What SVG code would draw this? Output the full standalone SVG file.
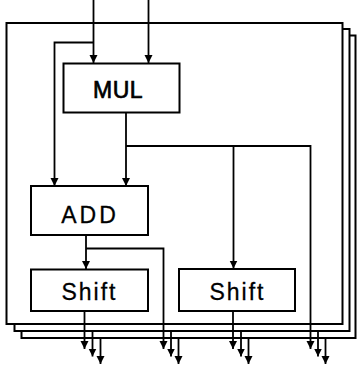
<svg xmlns="http://www.w3.org/2000/svg" width="357" height="367" viewBox="0 0 357 367">
<style>
.frame{fill:none;stroke:#000;stroke-width:2}
.box{fill:#fff;stroke:#000;stroke-width:2}
.wire{fill:none;stroke:#000;stroke-width:1.8}
.lbl{font-family:"Liberation Sans",Arial,sans-serif;font-size:23px;fill:#000;stroke:#000;stroke-width:0.3;text-anchor:middle}
</style>
<defs>
<marker id="ah" markerUnits="userSpaceOnUse" markerWidth="9" markerHeight="9" refX="8" refY="4" orient="auto">
<path d="M0,0 L8,4 L0,8 z" fill="#000"/>
</marker>
</defs>
<rect width="357" height="367" fill="#fff"/>
<g id="frames">
<path class="frame" d="M349.5,35.5 H355.5 V338 H21.5 V331"/>
<path class="frame" d="M342.5,29 H349.5 V331 H14.5 V324"/>
<rect class="frame" x="6.5" y="23" width="336" height="301" fill="#fff"/>
</g>
<g id="connectors">
<path class="wire" d="M93.5,0 V63" marker-end="url(#ah)"/>
<path class="wire" d="M93.5,42.5 H54.5 V186" marker-end="url(#ah)"/>
<path class="wire" d="M148.5,0 V63" marker-end="url(#ah)"/>
<path class="wire" d="M126,112 V186" marker-end="url(#ah)"/>
<path class="wire" d="M126,146 H310.5 V349" marker-end="url(#ah)"/>
<path class="wire" d="M233.5,146 V268.5" marker-end="url(#ah)"/>
<path class="wire" d="M86,235 V269" marker-end="url(#ah)"/>
<path class="wire" d="M86,248.5 H163.5 V349" marker-end="url(#ah)"/>
<path class="wire" d="M84.5,311 V349" marker-end="url(#ah)"/>
<path class="wire" d="M233,311 V349" marker-end="url(#ah)"/>
<path class="wire" d="M92.5,331 V356.5" marker-end="url(#ah)"/>
<path class="wire" d="M100.5,338 V364" marker-end="url(#ah)"/>
<path class="wire" d="M171,331 V356.5" marker-end="url(#ah)"/>
<path class="wire" d="M178.5,338 V364" marker-end="url(#ah)"/>
<path class="wire" d="M241,331 V356.5" marker-end="url(#ah)"/>
<path class="wire" d="M248.5,338 V364" marker-end="url(#ah)"/>
<path class="wire" d="M318,331 V356.5" marker-end="url(#ah)"/>
<path class="wire" d="M325.5,338 V364" marker-end="url(#ah)"/>
</g>
<g id="mul">
<rect class="box" x="63.5" y="63.5" width="116" height="49"/>
<text class="lbl" x="118" y="98" style="letter-spacing:0.5px;stroke-width:0.7">MUL</text>
</g>
<g id="add">
<rect class="box" x="31" y="186" width="117" height="49"/>
<text class="lbl" x="90" y="222.5" style="letter-spacing:3px">ADD</text>
</g>
<g id="shift1">
<rect class="box" x="31" y="269.5" width="117" height="41.5"/>
<text class="lbl" x="89.5" y="300" style="letter-spacing:2px">Shift</text>
</g>
<g id="shift2">
<rect class="box" x="179" y="269" width="116" height="42"/>
<text class="lbl" x="237.5" y="299.5" style="letter-spacing:2px">Shift</text>
</g>
</svg>
